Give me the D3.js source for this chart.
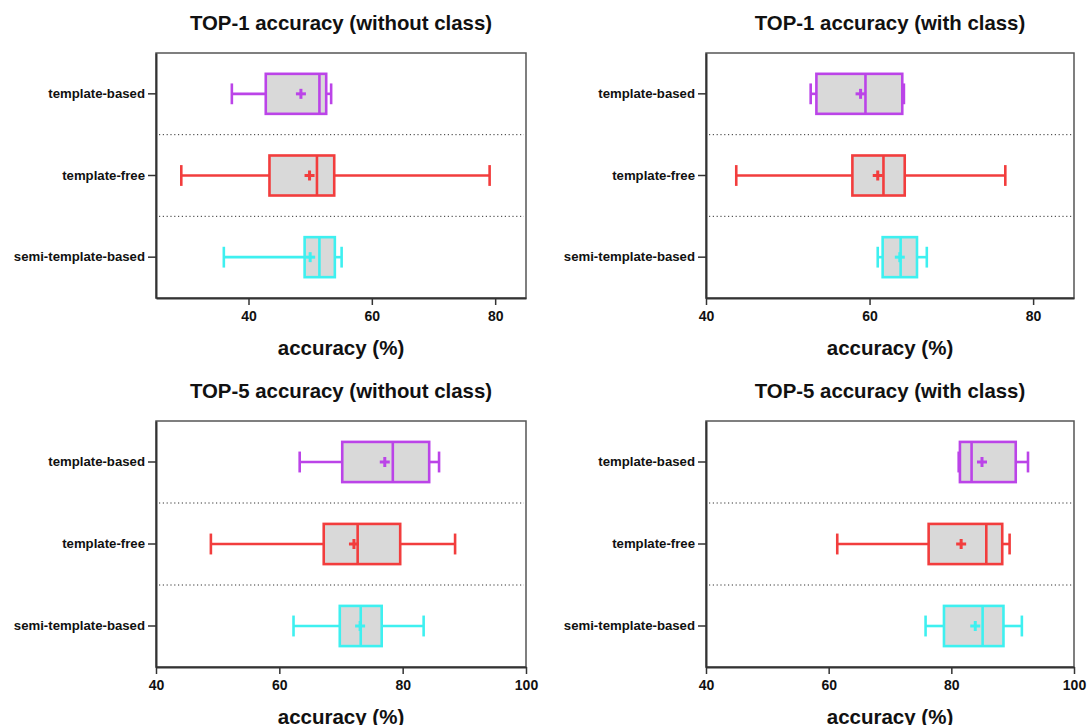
<!DOCTYPE html>
<html><head><meta charset="utf-8">
<script src="https://cdn.jsdelivr.net/npm/d3@7"></script>
<style>body{margin:0;background:#fff}svg{display:block;font-family:"Liberation Sans",Arial,sans-serif}</style>
</head><body>
<svg id="c" width="1087" height="725"></svg>
<script>
const categories = ["template-based","template-free","semi-template-based"];
const colors = ["#bb44e8","#f23d3d","#3ef0f0"];
const panelTitles = ["TOP-1 accuracy (without class)","TOP-1 accuracy (with class)","TOP-5 accuracy (without class)","TOP-5 accuracy (with class)"];
const xDomains = [[25,85],[40,85],[40,100],[40,100]];
const xTicks = [[40,60,80],[40,60,80],[40,60,80,100],[40,60,80,100]];
// [whiskerLow, Q1, median, Q3, whiskerHigh, mean] per category
const top1NoClass = [[37.3,42.8,51.5,52.6,53.4,48.5],[29.1,43.4,51.1,53.9,79.1,49.9],[36.0,49.1,51.5,54.0,55.1,50.0]];
const top1Class   = [[52.8,53.5,59.5,64.0,64.2,58.9],[43.7,57.9,61.7,64.3,76.6,61.0],[61.0,61.6,63.8,65.8,67.0,63.7]];
const top5NoClass = [[63.3,70.2,78.4,84.3,85.9,77.1],[48.9,67.2,72.7,79.6,88.5,72.1],[62.3,69.8,73.2,76.6,83.4,73.1]];
const top5Class   = [[81.2,81.4,83.3,90.5,92.5,85.0],[61.4,76.3,85.7,88.3,89.5,81.6],[75.8,78.8,85.1,88.5,91.5,83.9]];
const panelData = [top1NoClass, top1Class, top5NoClass, top5Class];

const svg = d3.select("#c");
const frames = [
  {l:156,r:526,t:53,b:298},{l:706,r:1074,t:53,b:298},
  {l:156,r:526,t:421,b:667},{l:706,r:1074,t:421,b:667}
];
frames.forEach((f,i)=>{
  const g = svg.append("g");
  const x = d3.scaleLinear().domain(xDomains[i]).range([f.l,f.r]);
  const y = d3.scaleBand().domain(categories).range([f.t,f.b]).padding(0);
  const bh = y.bandwidth()*0.49, ch = bh*0.52;
  g.append("text").attr("x",(f.l+f.r)/2).attr("y",f.t-23).attr("text-anchor","middle")
    .attr("font-size",20.4).attr("font-weight","bold").attr("fill","#111").text(panelTitles[i]);
  g.append("text").attr("x",(f.l+f.r)/2).attr("y",f.b+57).attr("text-anchor","middle")
    .attr("font-size",20.5).attr("font-weight","bold").attr("fill","#111").text("accuracy (%)");
  categories.slice(1).forEach(c=>{
    g.append("line").attr("x1",f.l+3).attr("x2",f.r-2).attr("y1",y(c)).attr("y2",y(c))
      .attr("stroke","#333").attr("stroke-width",1).attr("stroke-dasharray","1.2,2.6");
  });
  g.append("rect").attr("x",f.l).attr("y",f.t).attr("width",f.r-f.l).attr("height",f.b-f.t)
    .attr("fill","none").attr("stroke","#555").attr("stroke-width",1.5);
  const xa = g.append("g").attr("transform",`translate(0,${f.b})`)
    .call(d3.axisBottom(x).tickValues(xTicks[i]).tickSize(7).tickPadding(6).tickSizeOuter(0));
  xa.select(".domain").attr("stroke","#333").attr("stroke-width",2);
  xa.selectAll(".tick line").attr("stroke","#333").attr("stroke-width",1.5);
  xa.selectAll("text").attr("font-size",14).attr("font-weight","bold").attr("fill","#111").attr("font-family","Liberation Sans, Arial, sans-serif");
  const ya = g.append("g").attr("transform",`translate(${f.l},0)`)
    .call(d3.axisLeft(y).tickSize(8).tickPadding(3).tickSizeOuter(0));
  ya.select(".domain").attr("stroke","#333").attr("stroke-width",2);
  ya.selectAll(".tick line").attr("stroke","#333").attr("stroke-width",1.5);
  ya.selectAll("text").attr("font-size",13.2).attr("font-weight","bold").attr("fill","#111").attr("font-family","Liberation Sans, Arial, sans-serif");
  panelData[i].forEach((d,k)=>{
    const cy = y(categories[k]) + y.bandwidth()/2, col = colors[k];
    const [wl,q1,med,q3,wh,mean] = d;
    const s = {stroke:col,"stroke-width":2.6};
    const L = (x1,y1,x2,y2)=>{const l=g.append("line").attr("x1",x1).attr("y1",y1).attr("x2",x2).attr("y2",y2);Object.entries(s).forEach(([a,v])=>l.attr(a,v));return l;};
    L(x(wl),cy,x(q1),cy); L(x(q3),cy,x(wh),cy);
    L(x(wl),cy-ch/2,x(wl),cy+ch/2); L(x(wh),cy-ch/2,x(wh),cy+ch/2);
    g.append("rect").attr("x",x(q1)).attr("y",cy-bh/2).attr("width",x(q3)-x(q1)).attr("height",bh)
      .attr("fill","#d9d9d9").attr("stroke",col).attr("stroke-width",2.6);
    L(x(med),cy-bh/2,x(med),cy+bh/2);
    const m = x(mean);
    L(m-5,cy,m+5,cy).attr("stroke-width",3); L(m,cy-5,m,cy+5).attr("stroke-width",3);
  });
});
</script>
</body></html>
